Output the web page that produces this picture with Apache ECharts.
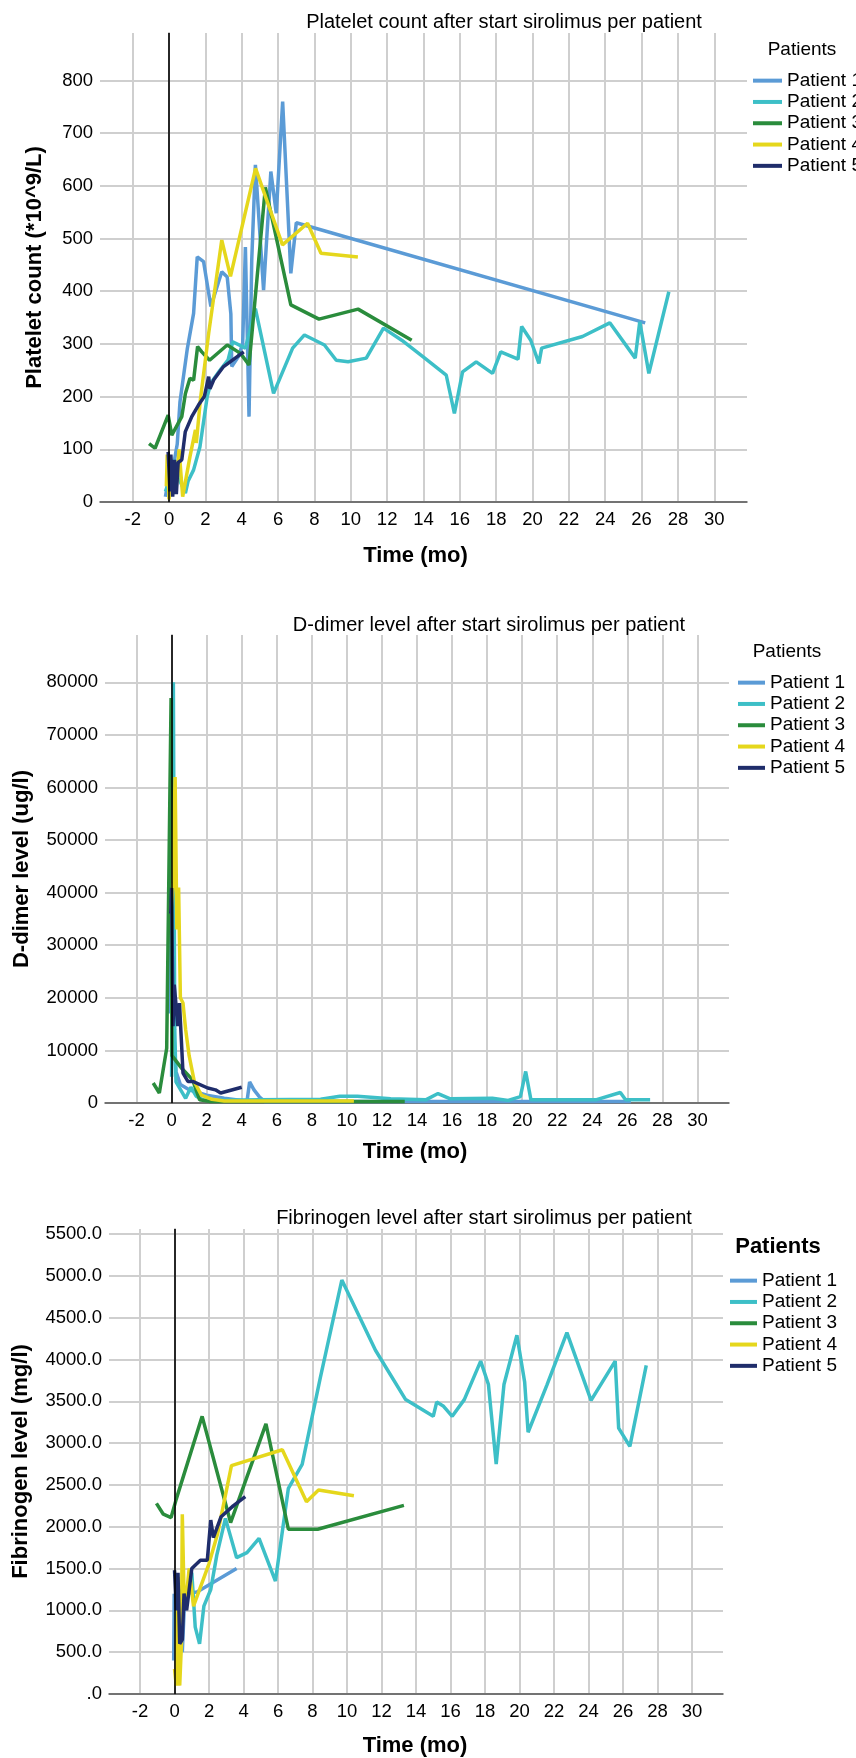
<!DOCTYPE html>
<html>
<head>
<meta charset="utf-8">
<script src="https://cdn.jsdelivr.net/npm/echarts@6/dist/echarts.min.js"></script>
<style>
html,body{margin:0;padding:0;background:#fff;}
#chart{width:856px;height:1758px;}
</style>
</head>
<body>
<div id="chart"></div>
<script>
// ---------- tick labels ----------
const timeTicks = [-2,0,2,4,6,8,10,12,14,16,18,20,22,24,26,28,30];
const plateletTicks = [0,100,200,300,400,500,600,700,800];
const ddimerTicks = [0,10000,20000,30000,40000,50000,60000,70000,80000];
const fibrinogenTicks = [0,500,1000,1500,2000,2500,3000,3500,4000,4500,5000,5500];
const patientNames = ['Patient 1','Patient 2','Patient 3','Patient 4','Patient 5'];

// ---------- Platelet count (*10^9/L): [time (mo), value] ----------
const plateletP1 = [[-0.2,10],[-0.1,30],[0.1,20],[0.3,80],[0.45,110],[0.6,190],[1.0,290],[1.35,358],[1.55,465],[1.9,456],[2.3,371],[2.9,437],[3.2,427],[3.4,357],[3.45,257],[3.8,275],[4.05,300],[4.2,484],[4.4,162],[4.55,460],[4.75,640],[5.2,402],[5.6,627],[5.9,548],[6.25,760],[6.7,434],[7.0,530],[26.2,340]];
const plateletP2 = [[-0.2,20],[0.1,50],[0.3,80],[0.6,40],[0.9,17],[1.05,40],[1.35,61],[1.7,105],[2.1,200],[2.3,226],[2.8,250],[3.25,270],[3.5,304],[4.2,292],[4.75,367],[5.75,206],[6.8,292],[7.45,317],[8.55,298],[9.2,269],[9.85,266],[10.85,273],[11.8,330],[12.8,307],[14.0,275],[15.25,241],[15.7,168],[16.15,247],[16.9,266],[17.8,244],[18.25,285],[19.2,271],[19.4,333],[19.9,307],[20.35,263],[20.5,292],[22.75,314],[24.25,340],[25.65,273],[25.9,342],[26.4,244],[27.5,399]];
const plateletP3 = [[-1.1,111],[-0.77,102],[-0.05,165],[0.15,127],[0.7,162],[0.9,206],[1.15,235],[1.35,231],[1.57,295],[1.8,285],[2.23,269],[3.2,298],[3.93,282],[4.4,260],[5.3,597],[6.7,374],[8.25,347],[10.4,366],[13.35,307]];
const plateletP4 = [[-0.15,30],[-0.1,90],[0.0,5],[0.2,60],[0.4,30],[0.55,100],[0.75,10],[1.15,86],[1.45,137],[1.5,112],[1.72,193],[2.18,320],[2.9,497],[3.38,428],[4.76,633],[6.24,488],[7.62,529],[8.36,472],[10.39,465]];
const plateletP5 = [[-0.05,95],[0.05,20],[0.1,90],[0.2,10],[0.3,80],[0.4,15],[0.5,75],[0.7,80],[0.89,133],[1.25,162],[1.62,184],[1.94,200],[2.18,238],[2.25,215],[2.46,232],[3.0,257],[4.11,285]];

// ---------- D-dimer level (ug/l) ----------
const ddimerP1 = [[-0.15,17000],[-0.1,47000],[-0.05,19000],[0.1,15000],[0.25,6000],[0.5,3500],[1.0,2500],[1.5,2000],[2.0,1500],[3.0,900],[4.0,500],[4.3,300],[4.45,4000],[4.7,2500],[5.0,1200],[5.3,300],[26.2,300]];
const ddimerP2 = [[0.0,5000],[0.1,80000],[0.18,14000],[0.25,4000],[0.5,2600],[0.8,900],[1.1,3000],[1.4,1300],[1.8,600],[3.0,500],[5.0,600],[8.5,700],[9.6,1300],[10.6,1300],[12.5,800],[14.5,600],[15.2,1800],[15.9,800],[18.3,900],[19.2,500],[19.9,1200],[20.2,6000],[20.5,600],[24.2,600],[25.6,2000],[25.9,600],[27.3,600]];
const ddimerP3 = [[-1.05,3800],[-0.7,1900],[-0.28,10400],[-0.03,77000],[0.02,9000],[0.6,6500],[1.2,4400],[1.6,600],[2.2,300],[13.3,300]];
const ddimerP4 = [[-0.05,36000],[0.1,42000],[0.15,55000],[0.2,62000],[0.3,33000],[0.4,41000],[0.5,20000],[0.65,19000],[0.8,14000],[1.0,9000],[1.3,4000],[1.7,1500],[2.3,700],[3.0,400],[10.4,400]];
const ddimerP5 = [[-0.05,36000],[0.0,40900],[0.08,14600],[0.15,22500],[0.25,18700],[0.35,14600],[0.45,19000],[0.65,5700],[0.93,4100],[1.2,4100],[2.06,2850],[2.5,2500],[2.8,1900],[4.0,3000]];

// ---------- Fibrinogen level (mg/l) ----------
const fibP1 = [[-0.05,400],[-0.02,1200],[0.1,700],[0.3,1000],[0.45,500],[0.6,1200],[1.3,1220],[3.6,1500]];
const fibP2 = [[0.05,900],[0.3,1250],[0.7,1100],[1.0,1450],[1.2,800],[1.45,600],[1.7,1050],[2.1,1250],[2.45,1660],[2.95,2100],[3.6,1630],[4.2,1690],[4.9,1860],[5.85,1350],[6.6,2460],[7.4,2745],[8.45,3780],[9.7,4950],[11.65,4110],[13.4,3520],[15.0,3320],[15.2,3490],[15.6,3440],[16.1,3320],[16.8,3520],[17.75,3980],[18.2,3700],[18.65,2750],[19.1,3700],[19.85,4290],[20.3,3730],[20.5,3130],[21.6,3700],[22.75,4320],[24.15,3510],[25.55,3980],[25.75,3180],[26.4,2960],[27.35,3930]];
const fibP3 = [[-1.05,2280],[-0.65,2150],[-0.2,2110],[0.1,2330],[1.6,3320],[3.25,2050],[5.3,3230],[6.6,1970],[8.3,1970],[13.3,2255]];
const fibP4 = [[0.0,300],[0.1,100],[0.2,1400],[0.3,100],[0.4,600],[0.45,2150],[0.55,1200],[0.65,1100],[0.85,1500],[1.1,1050],[2.0,1560],[2.5,1920],[3.3,2730],[6.25,2920],[7.65,2300],[8.35,2440],[10.4,2370]];
const fibP5 = [[0.0,1480],[0.1,1000],[0.2,1450],[0.3,600],[0.45,650],[0.55,1200],[0.7,1000],[0.85,1250],[1.0,1500],[1.5,1600],[1.9,1600],[2.1,2080],[2.25,1870],[2.7,2120],[3.4,2250],[4.1,2360]];

const colors = ['#5b9bd6','#3dbfc7','#2a8c3c','#e5d71c','#1f2d6b'];
const FONT = "'Liberation Sans', Arial, sans-serif";

const panels = [
  {title:'Platelet count after start sirolimus per patient', yName:'Platelet count (*10^9/L)', yTicks:plateletTicks, yMax:890,
   data:[plateletP1,plateletP2,plateletP3,plateletP4,plateletP5],
   grid:{left:100, top:33, width:647, height:469}, titleX:499, titleY:7, yNameGap:54, xNameGap:43, xNamePad:16,
   legTitle:{x:802,y:50,bold:false,size:19}, leg:{left:748, top:65, itemWidth:29}, fmt:v=>String(v)},
  {title:'D-dimer level after start sirolimus per patient', yName:'D-dimer level (ug/l)', yTicks:ddimerTicks, yMax:89000,
   data:[ddimerP1,ddimerP2,ddimerP3,ddimerP4,ddimerP5],
   grid:{left:105, top:635, width:624, height:468}, titleX:484, titleY:610, yNameGap:72, xNameGap:38, xNamePad:4,
   legTitle:{x:787,y:652,bold:false,size:19}, leg:{left:733, top:667, itemWidth:27}, fmt:v=>String(v)},
  {title:'Fibrinogen level after start sirolimus per patient', yName:'Fibrinogen level (mg/l)', yTicks:fibrinogenTicks, yMax:5560,
   data:[fibP1,fibP2,fibP3,fibP4,fibP5],
   grid:{left:109, top:1229, width:614, height:466}, titleX:479, titleY:1203, yNameGap:77, xNameGap:41, xNamePad:2,
   legTitle:{x:778,y:1247,bold:true,size:22}, leg:{left:725, top:1265, itemWidth:27}, fmt:v=>(v===0?'.0':v.toFixed(1))}
];

const option = {
  animation:false,
  backgroundColor:'#fff',
  textStyle:{fontFamily:FONT},
  title:[], grid:[], xAxis:[], yAxis:[], legend:[], series:[], graphic:[]
};

panels.forEach((p,i)=>{
  option.title.push({text:p.title, left:p.titleX, top:p.titleY, textAlign:'center',
    textStyle:{fontFamily:FONT, fontSize:20, fontWeight:'normal', color:'#000'}});
  option.grid.push(Object.assign({containLabel:false}, p.grid));
  option.xAxis.push({type:'value', gridIndex:i, min:-3.8, max:31.8,
    name:'Time (mo)', nameLocation:'middle', nameGap:p.xNameGap,
    nameTextStyle:{fontFamily:FONT, fontSize:22, fontWeight:'bold', color:'#000', padding:[0,p.xNamePad,0,0]},
    axisLine:{show:true, onZero:false, lineStyle:{color:'#555', width:1.5}},
    axisTick:{show:false, customValues:timeTicks},
    axisLabel:{customValues:timeTicks, margin:8, fontFamily:FONT, fontSize:18.5, color:'#000'},
    splitLine:{show:true, lineStyle:{color:'#cfcfcf', width:2}}
  });
  option.yAxis.push({type:'value', gridIndex:i, min:0, max:p.yMax,
    name:p.yName, nameLocation:'middle', nameGap:p.yNameGap,
    nameTextStyle:{fontFamily:FONT, fontSize:22, fontWeight:'bold', color:'#000'},
    axisLine:{show:true, lineStyle:{color:'#8a8a8a', width:1.5}},
    axisTick:{show:false, customValues:p.yTicks},
    axisLabel:{customValues:p.yTicks, margin:7, fontFamily:FONT, fontSize:18.5, color:'#000', formatter:p.fmt},
    splitLine:{show:true, lineStyle:{color:'#cfcfcf', width:2}}
  });
  option.graphic.push({type:'text', z:10, x:p.legTitle.x, y:p.legTitle.y,
    style:{text:'Patients', x:0, y:0, textAlign:'center', textVerticalAlign:'middle',
      font:(p.legTitle.bold?'bold ':'')+p.legTitle.size+'px '+FONT, fill:'#000'}});
  option.legend.push({data:patientNames, orient:'vertical', left:p.leg.left, top:p.leg.top,
    itemWidth:p.leg.itemWidth, itemHeight:4, itemGap:0, icon:'rect', selectedMode:false,
    textStyle:{fontFamily:FONT, fontSize:19, color:'#000', lineHeight:21.3}});
  p.data.forEach((d,k)=>{
    const s = {type:'line', name:patientNames[k], xAxisIndex:i, yAxisIndex:i, data:d,
      showSymbol:false, symbol:'none', color:colors[k], lineStyle:{width:3.5, color:colors[k]}, z:2+k};
    if(k===0){
      s.markLine = {silent:true, symbol:['none','none'], label:{show:false},
        lineStyle:{color:'#000', width:1.5, type:'solid'}, data:[{xAxis:0}], z:20};
    }
    option.series.push(s);
  });
});

const chart = echarts.init(document.getElementById('chart'), null, {renderer:'canvas'});
chart.setOption(option);
</script>
</body>
</html>
